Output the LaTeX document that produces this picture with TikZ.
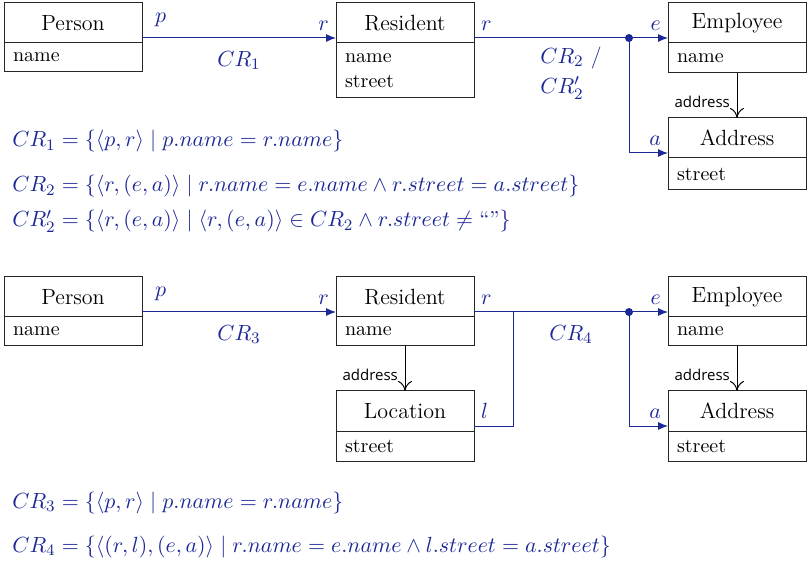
\documentclass[tikz,border=0pt]{standalone}
\usepackage{amsmath,amssymb}
\usepackage{fontspec}
\newfontfamily\lblfont{Open Sans}
\usepackage{tikz}
\usetikzlibrary{arrows.meta,positioning}

\definecolor{crblue}{RGB}{28,40,150}

\tikzset{
  cls/.style={draw=black!85,line width=0.5pt,outer sep=0pt,minimum width=69pt,minimum height=20pt,inner sep=0pt,font=\fontsize{11}{13}\selectfont},
  attrs/.style={draw=black!85,line width=0.5pt,outer sep=0pt,text width=60pt,inner xsep=4.5pt,inner ysep=2pt,align=left,font=\fontsize{10}{12.5}\selectfont},
  cr/.style={crblue,line width=0.5pt},
  lbl/.style={crblue,font=\fontsize{11}{15}\selectfont},
  assoc/.style={->,line width=0.5pt},
  frm/.style={crblue,anchor=base west,inner sep=0pt,font=\fontsize{10.8}{13}\selectfont}
}

\begin{document}
\begin{tikzpicture}[x=0.5pt,y=-0.5pt,node distance=22.5pt and 97pt,>={To[length=5pt,width=7pt]}]
\useasboundingbox (0,0) rectangle (809,561);

% first mapping
\node[cls] (p1) at (73,23) {Person};
\node[attrs,minimum height=14.5pt,below=0pt of p1] (p1b) {name};
\node[cls,right=of p1] (r1) {Resident};
\node[attrs,minimum height=27.5pt,below=0pt of r1] (r1b) {name\\street};
\node[cls,right=of r1] (e1) {Employee};
\node[attrs,minimum height=15pt,below=0pt of e1] (e1b) {name};
\node[cls,below=of e1b] (a1) {Address};
\node[attrs,minimum height=16pt,below=0pt of a1] (a1b) {street};

\draw[assoc] (e1b) -- node[left,pos=0.65,font=\lblfont\fontsize{7.5}{9}\selectfont] {address} (a1);

\draw[cr,-{Latex[length=5pt,width=4pt]}] ([yshift=2.5pt]p1.south east) -- node[lbl,below=3pt] {$CR_1$}
  node[lbl,above right=2pt and 3pt,pos=0] {$p$} node[lbl,above left,pos=1] {$r$} ([yshift=2.5pt]r1.south west);
\coordinate (j1) at ([xshift=-19.5pt,yshift=2.5pt]e1.south west);
\draw[cr] ([yshift=2.5pt]r1.south east) -- node[lbl,above right,pos=0] {$r$} (j1);
\path ([yshift=2.5pt]r1.south east) -- node[lbl,below=1pt,align=left] {$CR_2$ /\\$CR_2'$} ([yshift=2.5pt]e1.south west);
\draw[cr,-{Latex[length=5pt,width=4pt]}] (j1) -- node[lbl,above left,pos=1] {$e$} ([yshift=2.5pt]e1.south west);
\draw[cr,-{Latex[length=5pt,width=4pt]}] (j1) |- node[lbl,above left,pos=1] {$a$} ([yshift=2.5pt]a1.south west);
\fill[crblue] (j1) circle (2pt);

\node[frm] (f1) at (12,147) {$CR_1 = \{\langle p,r\rangle \mid p.name = r.name\}$};
\node[frm] (f2) at (12,192) {$CR_2 = \{\langle r,(e,a)\rangle \mid r.name = e.name \wedge r.street = a.street\}$};
\node[frm] (f3) at (12,227) {$CR_2' = \{\langle r,(e,a)\rangle \mid \langle r,(e,a)\rangle \in CR_2 \wedge r.street \neq \text{``''}\}$};

% second mapping
\node[cls] (p2) at (73,297) {Person};
\node[attrs,minimum height=14.5pt,below=0pt of p2] (p2b) {name};
\node[cls,right=of p2] (r2) {Resident};
\node[attrs,minimum height=14.5pt,below=0pt of r2] (r2b) {name};
\node[cls,below=of r2b] (l2) {Location};
\node[attrs,minimum height=15pt,below=0pt of l2] (l2b) {street};
\node[cls,right=of r2] (e2) {Employee};
\node[attrs,minimum height=14.5pt,below=0pt of e2] (e2b) {name};
\node[cls,below=of e2b] (a2) {Address};
\node[attrs,minimum height=15pt,below=0pt of a2] (a2b) {street};

\draw[assoc] (r2b) -- node[left,pos=0.65,font=\lblfont\fontsize{7.5}{9}\selectfont] {address} (l2);
\draw[assoc] (e2b) -- node[left,pos=0.65,font=\lblfont\fontsize{7.5}{9}\selectfont] {address} (a2);

\draw[cr,-{Latex[length=5pt,width=4pt]}] ([yshift=2.5pt]p2.south east) -- node[lbl,below=3pt] {$CR_3$}
  node[lbl,above right=2pt and 3pt,pos=0] {$p$} node[lbl,above left,pos=1] {$r$} ([yshift=2.5pt]r2.south west);
\coordinate (k2) at ([xshift=19.5pt,yshift=2.5pt]r2.south east);
\coordinate (j2) at ([xshift=-19.5pt,yshift=2.5pt]e2.south west);
\draw[cr] ([yshift=2.5pt]r2.south east) -- node[lbl,above right,pos=0] {$r$} (j2);
\path ([yshift=2.5pt]r2.south east) -- node[lbl,below=3pt] {$CR_4$} ([yshift=2.5pt]e2.south west);
\draw[cr] ([yshift=2.5pt]l2.south east) -| (k2);
\node[lbl,above right] at ([yshift=2.5pt]l2.south east) {$l$};
\draw[cr,-{Latex[length=5pt,width=4pt]}] (j2) -- node[lbl,above left,pos=1] {$e$} ([yshift=2.5pt]e2.south west);
\draw[cr,-{Latex[length=5pt,width=4pt]}] (j2) |- node[lbl,above left,pos=1] {$a$} ([yshift=2.5pt]a2.south west);
\fill[crblue] (j2) circle (2pt);

\node[frm] (f4) at (12,508) {$CR_3 = \{\langle p,r\rangle \mid p.name = r.name\}$};
\node[frm] (f5) at (12,552) {$CR_4 = \{\langle (r,l),(e,a)\rangle \mid r.name = e.name \wedge l.street = a.street\}$};
\end{tikzpicture}
\end{document}
